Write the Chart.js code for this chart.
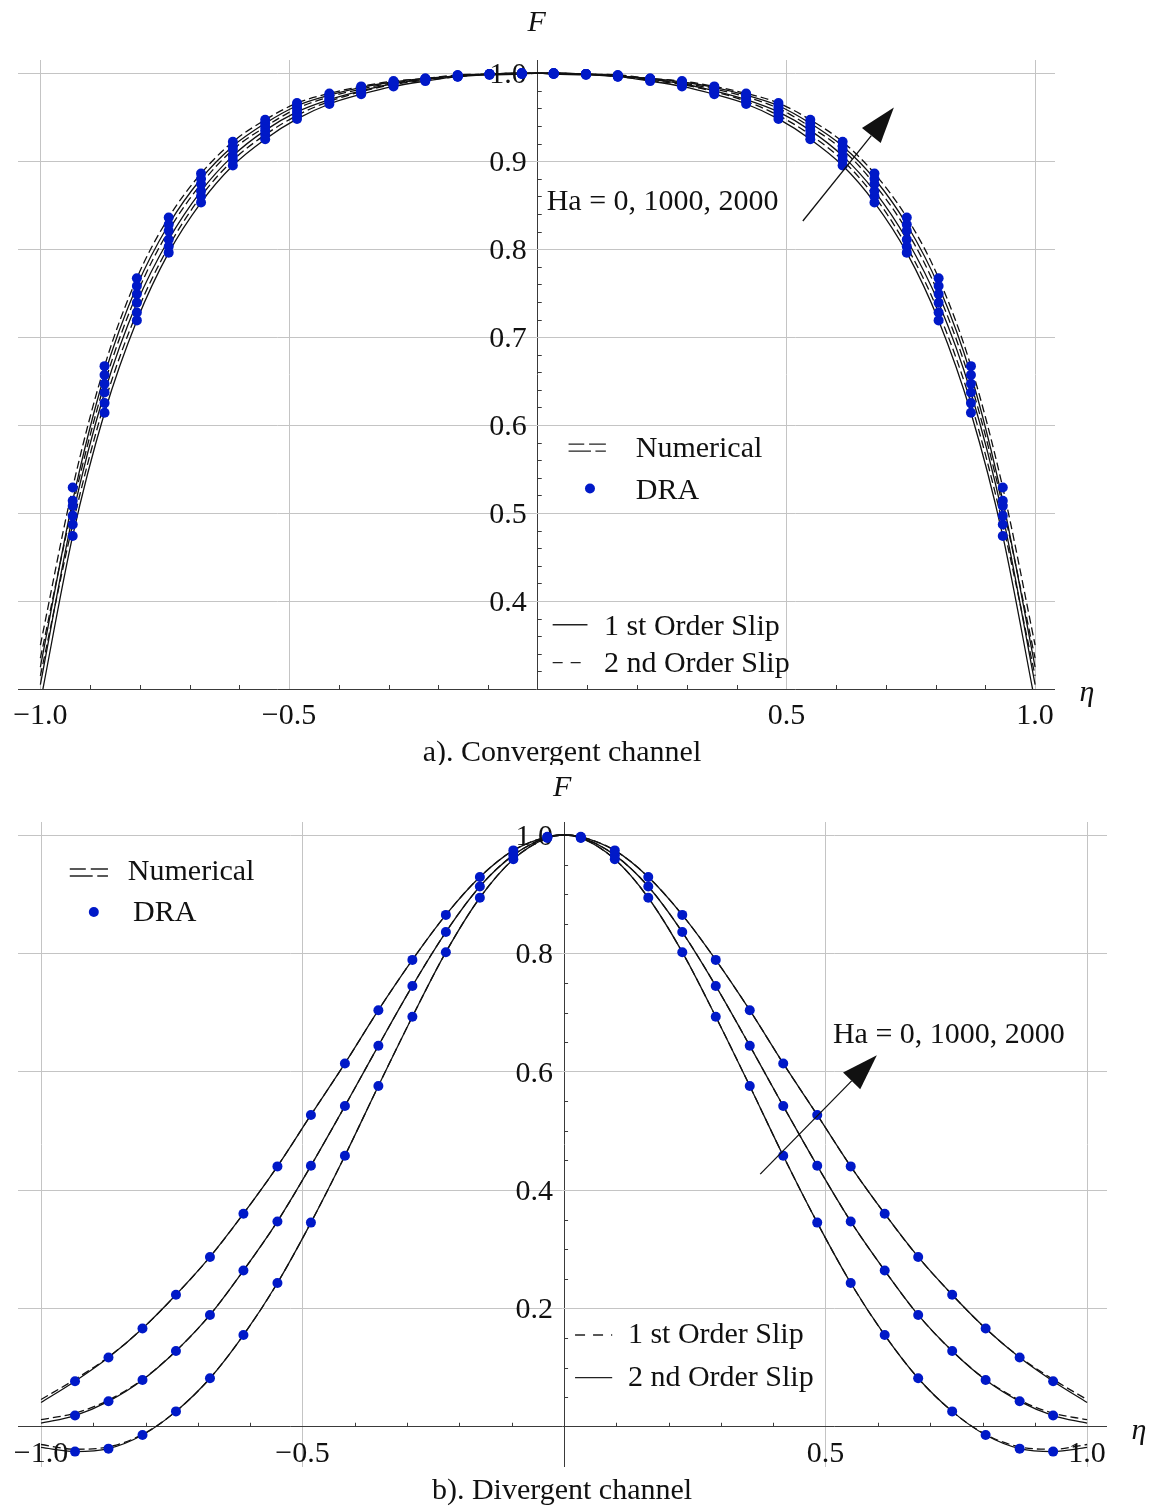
<!DOCTYPE html>
<html>
<head>
<meta charset="utf-8">
<script src="https://cdn.jsdelivr.net/npm/chart.js@4.4.1/dist/chart.umd.min.js"></script>
<style>
body{margin:0;background:#fff;}
canvas{display:block;}
</style>
</head>
<body>
<canvas id="convergente" width="1150" height="765"></canvas>
<canvas id="divergente" width="1150" height="743"></canvas>
<script>
// eta positions (endpoints, DRA points, centre)
var eta = [-1, -0.935, -0.871, -0.806, -0.742, -0.677, -0.613, -0.548, -0.484, -0.419, -0.355, -0.290, -0.226, -0.161, -0.097, -0.032, 0,
           0.032, 0.097, 0.161, 0.226, 0.290, 0.355, 0.419, 0.484, 0.548, 0.613, 0.677, 0.742, 0.806, 0.871, 0.935, 1];

// a) convergent channel: S = 1st order slip (solid), D = 2nd order slip (dashed); Ha = 2000, 1000, 0
var convD2000 = [0.350,0.529,0.667,0.767,0.836,0.886,0.922,0.947,0.966,0.977,0.985,0.991,0.994,0.998,0.999,1.000, 1.000, 1.000,0.999,0.998,0.994,0.991,0.985,0.977,0.966,0.947,0.922,0.886,0.836,0.767,0.667,0.529,0.350];
var convS2000 = [0.325,0.514,0.657,0.758,0.828,0.880,0.917,0.943,0.963,0.975,0.984,0.990,0.994,0.997,0.999,1.000, 1.000, 1.000,0.999,0.997,0.994,0.990,0.984,0.975,0.963,0.943,0.917,0.880,0.828,0.758,0.657,0.514,0.325];
var convD1000 = [0.335,0.508,0.647,0.749,0.821,0.874,0.913,0.939,0.960,0.973,0.982,0.989,0.993,0.997,0.999,1.000, 1.000, 1.000,0.999,0.997,0.993,0.989,0.982,0.973,0.960,0.939,0.913,0.874,0.821,0.749,0.647,0.508,0.335];
var convS1000 = [0.305,0.497,0.637,0.739,0.811,0.866,0.906,0.935,0.956,0.970,0.980,0.988,0.993,0.997,0.999,1.000, 1.000, 1.000,0.999,0.997,0.993,0.988,0.980,0.970,0.956,0.935,0.906,0.866,0.811,0.739,0.637,0.497,0.305];
var convD0    = [0.315,0.487,0.625,0.728,0.803,0.860,0.901,0.930,0.952,0.968,0.979,0.987,0.992,0.996,0.999,0.999, 1.000, 0.999,0.999,0.996,0.992,0.987,0.979,0.968,0.952,0.930,0.901,0.860,0.803,0.728,0.625,0.487,0.315];
var convS0    = [0.285,0.474,0.614,0.719,0.796,0.853,0.895,0.925,0.948,0.965,0.976,0.985,0.991,0.996,0.998,0.999, 1.000, 0.999,0.998,0.996,0.991,0.985,0.976,0.965,0.948,0.925,0.895,0.853,0.796,0.719,0.614,0.474,0.285];

// b) divergent channel: D = 1st order slip (dashed), S = 2nd order slip (solid)
var divS2000 = [0.041,0.077,0.117,0.166,0.223,0.287,0.360,0.440,0.527,0.614,0.704,0.789,0.865,0.929,0.974,0.997, 1.000, 0.997,0.974,0.929,0.865,0.789,0.704,0.614,0.527,0.440,0.360,0.287,0.223,0.166,0.117,0.077,0.041];
var divD2000 = [0.046,0.080,0.118,0.166,0.223,0.287,0.360,0.440,0.527,0.614,0.704,0.789,0.865,0.929,0.974,0.997, 1.000, 0.997,0.974,0.929,0.865,0.789,0.704,0.614,0.527,0.440,0.360,0.287,0.223,0.166,0.118,0.080,0.046];
var divS1000 = [0.006,0.019,0.043,0.079,0.128,0.189,0.264,0.347,0.441,0.542,0.644,0.745,0.836,0.913,0.966,0.996, 1.000, 0.996,0.966,0.913,0.836,0.745,0.644,0.542,0.441,0.347,0.264,0.189,0.128,0.079,0.043,0.019,0.006];
var divD1000 = [0.012,0.023,0.045,0.080,0.128,0.189,0.264,0.347,0.441,0.542,0.644,0.745,0.836,0.913,0.966,0.996, 1.000, 0.996,0.966,0.913,0.836,0.745,0.644,0.542,0.441,0.347,0.264,0.189,0.128,0.080,0.045,0.023,0.012];
var divS0    = [-0.035,-0.042,-0.037,-0.014,0.026,0.082,0.155,0.243,0.345,0.458,0.576,0.693,0.802,0.894,0.959,0.995, 1.000, 0.995,0.959,0.894,0.802,0.693,0.576,0.458,0.345,0.243,0.155,0.082,0.026,-0.014,-0.037,-0.042,-0.035];
var divD0    = [-0.030,-0.038,-0.034,-0.013,0.026,0.082,0.155,0.243,0.345,0.458,0.576,0.693,0.802,0.894,0.959,0.995, 1.000, 0.995,0.959,0.894,0.802,0.693,0.576,0.458,0.345,0.243,0.155,0.082,0.026,-0.013,-0.034,-0.038,-0.030];

// ticks
var xGrid = [-1, -0.5, 0, 0.5, 1];
var xTickLabels = ['\u22121.0', '\u22120.5', '0.5', '1.0'];
var xTickAt = [-1, -0.5, 0.5, 1];
var convYGrid = [0.3, 0.4, 0.5, 0.6, 0.7, 0.8, 0.9, 1.0];
var convYLabels = ['1.0', '0.9', '0.8', '0.7', '0.6', '0.5', '0.4'];
var convYAt = [1.0, 0.9, 0.8, 0.7, 0.6, 0.5, 0.4];
var divYGrid = [0, 0.2, 0.4, 0.6, 0.8, 1.0];
var divYLabels = ['1.0', '0.8', '0.6', '0.4', '0.2'];
var divYAt = [1.0, 0.8, 0.6, 0.4, 0.2];

var FONT = '30px "Liberation Serif", "Times New Roman", serif';
var IFONT = 'italic 30px "Liberation Serif", "Times New Roman", serif';
var AZUL = '#0019c8';

function pts(v){ return eta.map(function(e, i){ return {x: e, y: v[i]}; }); }
function dra(v){ return pts(v).filter(function(p, i){ return i > 0 && i < eta.length - 1 && p.x !== 0; }); }

function minors(a, b, step, skip){
    var out = [];
    for (var k = Math.round(a / step); k <= Math.round(b / step); k++){
        var v = +(k * step).toFixed(4);
        if (Math.abs(v / skip - Math.round(v / skip)) > 1e-6) out.push(v);
    }
    return out;
}

function linha(v, dash){
    return {data: pts(v), showLine: true, borderColor: '#111', borderWidth: 1.3, borderDash: dash ? [8, 4] : [],
            pointRadius: 0, fill: false, cubicInterpolationMode: 'monotone', order: 1};
}
function pontos(v){
    return {data: dra(v), showLine: false, pointRadius: 5, pointBackgroundColor: AZUL, pointBorderWidth: 0, order: 0};
}

var decor = {
    id: 'decor',
    beforeDatasetsDraw: function(chart, args, o){
        var c = chart.ctx, sx = chart.scales.x, sy = chart.scales.y;
        var ax = sx.getPixelForValue(0), ay = sy.getPixelForValue(o.base);
        c.save();
        c.strokeStyle = '#3a3a3a'; c.lineWidth = 1;
        c.beginPath();
        o.xMinor.forEach(function(v){ var p = Math.round(sx.getPixelForValue(v)) + 0.5; c.moveTo(p, ay); c.lineTo(p, ay - 4); });
        o.yMinor.forEach(function(v){ var p = Math.round(sy.getPixelForValue(v)) + 0.5; c.moveTo(ax, p); c.lineTo(ax + 4, p); });
        c.stroke();
        c.fillStyle = '#111'; c.font = FONT;
        c.textAlign = 'center'; c.textBaseline = 'middle';
        xTickLabels.forEach(function(t, i){ c.fillText(t, sx.getPixelForValue(xTickAt[i]), ay + 27); });
        c.textAlign = 'right';
        o.yLabels.forEach(function(t, i){ c.fillText(t, ax - 11, sy.getPixelForValue(o.yAt[i]) + 2); });
        c.restore();
    },
    afterDraw: function(chart, args, o){
        var c = chart.ctx, sx = chart.scales.x, sy = chart.scales.y, area = chart.chartArea;
        var X = function(v){ return sx.getPixelForValue(v); }, Y = function(v){ return sy.getPixelForValue(v); };
        c.save();
        c.fillStyle = '#111'; c.strokeStyle = '#111';
        c.textBaseline = 'middle';
        // axis names
        c.font = IFONT; c.textAlign = 'center';
        c.fillText('F', X(0) + o.fdx, 23);
        c.fillText('\u03b7', area.right + 32, Y(o.base) + 4);
        // title
        c.font = FONT;
        c.fillText(o.title, 562, o.titleY);
        // Ha text
        c.textAlign = 'left';
        c.fillText('Ha = 0, 1000, 2000', X(o.ha[0]), Y(o.ha[1]) + 2);
        // arrow
        var x1 = X(o.arrow[0]), y1 = Y(o.arrow[1]), x2 = X(o.arrow[2]), y2 = Y(o.arrow[3]);
        var ang = Math.atan2(y2 - y1, x2 - x1), hl = 36, hw = 12;
        var bx = x2 - hl * Math.cos(ang), by = y2 - hl * Math.sin(ang);
        c.lineWidth = 1.3;
        c.beginPath(); c.moveTo(x1, y1); c.lineTo(bx, by); c.stroke();
        c.beginPath(); c.moveTo(x2, y2);
        c.lineTo(bx + hw * Math.sin(ang), by - hw * Math.cos(ang));
        c.lineTo(bx - hw * Math.sin(ang), by + hw * Math.cos(ang));
        c.closePath(); c.fill();
        // legend entries
        o.legend.forEach(function(e){
            var xa = X(e.x1), xb = X(e.x2), yy = Y(e.y);
            c.lineWidth = 1.4; c.strokeStyle = '#222';
            if (e.kind === 'num'){
                var w = xb - xa;
                c.beginPath();
                c.moveTo(xa, yy - 3); c.lineTo(xa + w * 0.42, yy - 3);
                c.moveTo(xa + w * 0.55, yy - 3); c.lineTo(xb, yy - 3);
                c.moveTo(xa, yy + 4); c.lineTo(xa + w * 0.6, yy + 4);
                c.moveTo(xa + w * 0.72, yy + 4); c.lineTo(xb, yy + 4);
                c.stroke();
            } else if (e.kind === 'dot'){
                c.fillStyle = AZUL;
                c.beginPath(); c.arc((xa + xb) / 2, yy, 5, 0, Math.PI * 2); c.fill();
                c.fillStyle = '#111';
            } else {
                c.setLineDash(e.kind === 'dash' ? [10, 8] : []);
                c.beginPath(); c.moveTo(xa, yy); c.lineTo(xb, yy); c.stroke();
                c.setLineDash([]);
            }
            c.fillText(e.text, X(e.tx), Y(e.ty) + 2);
        });
        c.restore();
    }
};

function grade(baseVal){
    return function(ctx){
        return ctx.tick && Math.abs(ctx.tick.value - baseVal) < 1e-9 ? '#3a3a3a' : '#c4c4c4';
    };
}

function montar(id, datasets, xr, yr, yGrid, pad, dec){
    return new Chart(document.getElementById(id), {
        type: 'scatter',
        data: {datasets: datasets},
        options: {
            responsive: false, animation: false, devicePixelRatio: 1,
            layout: {padding: pad},
            plugins: {legend: {display: false}, tooltip: {enabled: false}, decor: dec},
            scales: {
                x: {type: 'linear', min: xr[0], max: xr[1],
                    afterBuildTicks: function(s){ s.ticks = xGrid.map(function(v){ return {value: v}; }); },
                    ticks: {display: false}, border: {display: false},
                    grid: {drawTicks: false, lineWidth: 1, color: grade(0)}},
                y: {type: 'linear', min: yr[0], max: yr[1],
                    afterBuildTicks: function(s){ s.ticks = yGrid.map(function(v){ return {value: v}; }); },
                    ticks: {display: false}, border: {display: false},
                    grid: {drawTicks: false, lineWidth: 1, color: grade(dec.base)}}
            }
        },
        plugins: [decor]
    });
}

montar('convergente', [
    pontos(convD2000), pontos(convS2000), pontos(convD1000), pontos(convS1000), pontos(convD0), pontos(convS0),
    linha(convD2000, true), linha(convS2000, false), linha(convD1000, true), linha(convS1000, false), linha(convD0, true), linha(convS0, false)
], [-1.045, 1.04], [0.3, 1.015], convYGrid, {left: 18, right: 95, top: 60, bottom: 76}, {
    base: 0.3, fdx: -1,
    xMinor: minors(-1, 1, 0.1, 0.5), yMinor: minors(0.3, 1.0, 0.02, 0.1),
    yLabels: convYLabels, yAt: convYAt,
    title: 'a). Convergent channel', titleY: 753,
    ha: [0.018, 0.856], arrow: [0.533, 0.832, 0.716, 0.961],
    legend: [
        {kind: 'num', x1: 0.062, x2: 0.137, y: 0.575, text: 'Numerical', tx: 0.197, ty: 0.575},
        {kind: 'dot', x1: 0.105, x2: 0.105, y: 0.528, text: 'DRA', tx: 0.197, ty: 0.527},
        {kind: 'solid', x1: 0.030, x2: 0.100, y: 0.373, text: '1 st Order Slip', tx: 0.133, ty: 0.373},
        {kind: 'dash', x1: 0.030, x2: 0.100, y: 0.330, text: '2 nd Order Slip', tx: 0.133, ty: 0.330}
    ]
});

montar('divergente', [
    pontos(divS2000), pontos(divS1000), pontos(divS0),
    linha(divD2000, true), linha(divS2000, false), linha(divD1000, true), linha(divS1000, false), linha(divD0, true), linha(divS0, false)
], [-1.044, 1.038], [-0.068, 1.022], divYGrid, {left: 18, right: 43, top: 57, bottom: 41}, {
    base: 0, fdx: -2,
    xMinor: minors(-1, 1, 0.1, 0.5), yMinor: minors(0, 1.0, 0.05, 0.2),
    yLabels: divYLabels, yAt: divYAt,
    title: 'b). Divergent channel', titleY: 726,
    ha: [0.514, 0.6655], arrow: [0.375, 0.427, 0.598, 0.628],
    legend: [
        {kind: 'num', x1: -0.945, x2: -0.872, y: 0.9375, text: 'Numerical', tx: -0.834, ty: 0.941},
        {kind: 'dot', x1: -0.899, x2: -0.899, y: 0.870, text: 'DRA', tx: -0.824, ty: 0.872},
        {kind: 'dash', x1: 0.021, x2: 0.092, y: 0.155, text: '1 st Order Slip', tx: 0.122, ty: 0.159},
        {kind: 'solid', x1: 0.021, x2: 0.092, y: 0.083, text: '2 nd Order Slip', tx: 0.122, ty: 0.085}
    ]
});
</script>
</body>
</html>
